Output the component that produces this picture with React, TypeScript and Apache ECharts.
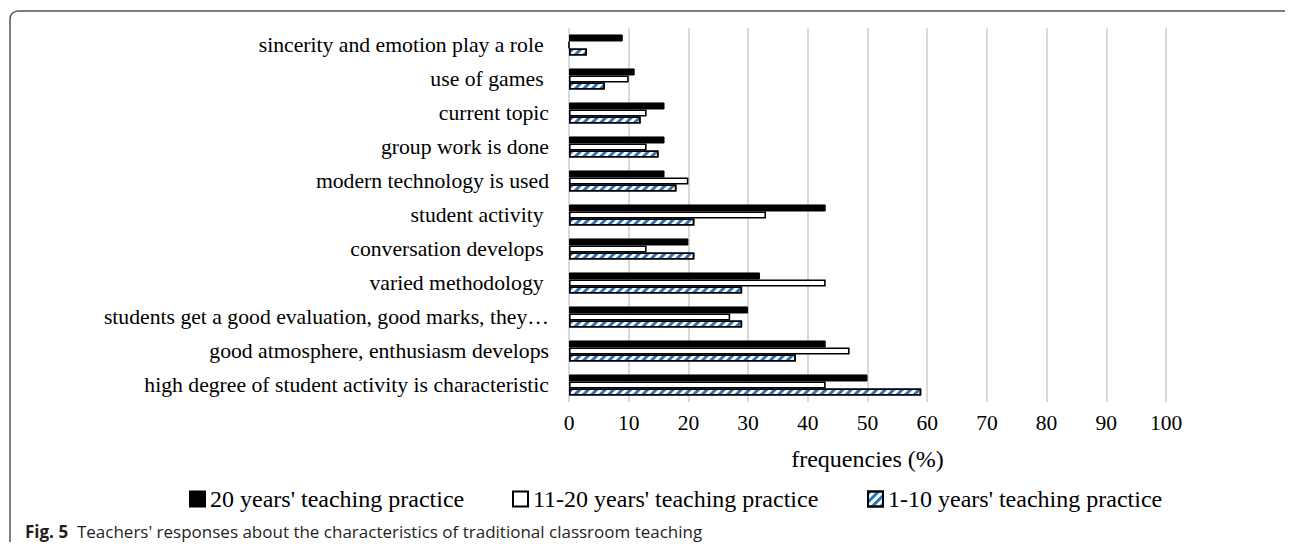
import React, { useEffect, useRef } from "react";
import * as echarts from "echarts";

const categories = [
  "sincerity and emotion play a role ",
  "use of games ",
  "current topic",
  "group work is done",
  "modern technology is used",
  "student activity ",
  "conversation develops ",
  "varied methodology ",
  "students get a good evaluation, good marks, they…",
  "good atmosphere, enthusiasm develops",
  "high degree of student activity is characteristic",
];
const seriesNames = [
  "20 years' teaching practice",
  "11-20 years' teaching practice",
  "1-10 years' teaching practice",
];
const over20Years = [9, 11, 16, 16, 16, 43, 20, 32, 30, 43, 50];
const from11to20Years = [0, 10, 13, 13, 20, 33, 13, 43, 27, 47, 43];
const from1to10Years = [3, 6, 12, 15, 18, 21, 21, 29, 29, 38, 59];
const xMin = 0;
const xMax = 100;
const xInterval = 10;
const axisTitle = "frequencies (%)";
const captionLabel = "Fig. 5";
const captionText = "Teachers' responses about the characteristics of traditional classroom teaching";

const SERIF = "'Liberation Serif', 'Times New Roman', serif";
const SANS = "'Open Sans', 'Noto Sans', sans-serif";

export default function App() {
  const ref = useRef<HTMLDivElement>(null);
  useEffect(() => {
    if (!ref.current) return;
    const chart = echarts.init(ref.current, null, { renderer: "svg" });
    const hatch = {
      symbol: "rect",
      symbolSize: 1,
      color: "#2E75B6",
      dashArrayX: [1, 0],
      dashArrayY: [3, 3],
      rotation: -Math.PI / 4,
    };
    const legendText = { fontFamily: SERIF, fontSize: 24, color: "#000" };
    const legendBase = {
      top: 482,
      icon: "rect",
      itemWidth: 15,
      itemHeight: 15,
      textStyle: legendText,
    };
    chart.setOption({
      animation: false,
      grid: { left: 569, right: 127, top: 28, bottom: 148, containLabel: false },
      xAxis: {
        type: "value",
        min: xMin,
        max: xMax,
        interval: xInterval,
        name: axisTitle,
        nameLocation: "middle",
        nameGap: 45,
        nameTextStyle: { fontFamily: SERIF, fontSize: 24, color: "#000" },
        axisLine: { show: false },
        axisTick: { show: false },
        axisLabel: { fontFamily: SERIF, fontSize: 21.5, color: "#000", margin: 10 },
        splitLine: { show: true, lineStyle: { color: "#d9d9d9", width: 2 } },
      },
      yAxis: {
        type: "category",
        inverse: true,
        data: categories,
        axisLine: { show: false },
        axisTick: { show: false },
        axisLabel: { fontFamily: SERIF, fontSize: 21.7, color: "#000", margin: 20 },
      },
      legend: [
        { ...legendBase, data: [seriesNames[0]], left: 184 },
        { ...legendBase, data: [seriesNames[1]], left: 507 },
        { ...legendBase, data: [seriesNames[2]], left: 862 },
      ],
      series: [
        {
          name: seriesNames[0],
          type: "bar",
          data: over20Years,
          barGap: "0%",
          barCategoryGap: "38%",
          itemStyle: { color: "#000", borderColor: "#000", borderWidth: 1 },
        },
        {
          name: seriesNames[1],
          type: "bar",
          data: from11to20Years,
          itemStyle: { color: "#fff", borderColor: "#000", borderWidth: 1.6 },
        },
        {
          name: seriesNames[2],
          type: "bar",
          data: from1to10Years,
          itemStyle: { color: "#fff", borderColor: "#000", borderWidth: 1.6, decal: hatch },
        },
      ],
      graphic: [
        {
          type: "rect",
          shape: { x: 10, y: 11, width: 1300, height: 538, r: 8 },
          style: { fill: "none", stroke: "#555", lineWidth: 1.5 },
          silent: true,
        },
        {
          type: "text",
          left: 25,
          top: 523,
          style: {
            text: "{b|" + captionLabel + "}  " + captionText,
            fontFamily: SANS,
            fontSize: 17,
            fill: "#231f20",
            rich: {
              b: {
                fontFamily: SANS,
                fontSize: 17,
                fontWeight: "bold",
                fill: "#231f20",
              },
            },
          },
        },
      ],
    });
    return () => chart.dispose();
  }, []);
  return <div ref={ref} style={{ width: 1293, height: 550, margin: -8 }} />;
}
